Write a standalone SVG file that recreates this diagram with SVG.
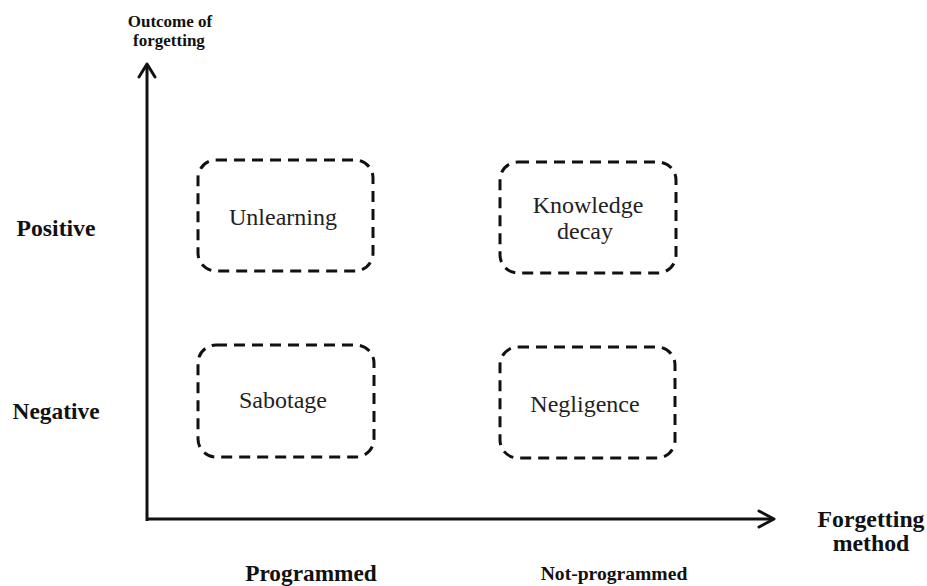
<svg xmlns="http://www.w3.org/2000/svg" width="927" height="586" viewBox="0 0 927 586">
<style>
.box{fill:none;stroke:#111;stroke-width:3;stroke-dasharray:11 7}
.ax{fill:none;stroke:#111;stroke-width:3}
.hd{fill:none;stroke:#111;stroke-width:3;stroke-linecap:round;stroke-linejoin:round}
.lb{font-family:"Liberation Serif",serif;font-size:24px;fill:#222;text-anchor:middle}
.bd{font-family:"Liberation Serif",serif;font-weight:bold;fill:#111;text-anchor:middle}
</style>
<rect width="927" height="586" fill="#fff"/>
<g id="connectors">
<line class="ax" x1="147" y1="521" x2="147" y2="65"/>
<polyline class="hd" points="139,77 147,64 155,77"/>
<line class="ax" x1="146" y1="519" x2="773" y2="519"/>
<polyline class="hd" points="759,511 774,519 759,527"/>
</g>
<g id="unlearning">
<rect class="box" x="198" y="160" width="175" height="111" rx="18"/>
<text class="lb" x="283" y="225">Unlearning</text>
</g>
<g id="knowledge-decay">
<rect class="box" x="500" y="162" width="176" height="111" rx="18"/>
<text class="lb" x="588" y="213">Knowledge</text>
<text class="lb" x="585" y="239">decay</text>
</g>
<g id="sabotage">
<rect class="box" x="198" y="345" width="176" height="112" rx="18"/>
<text class="lb" x="283" y="408">Sabotage</text>
</g>
<g id="negligence">
<rect class="box" x="500" y="347" width="175" height="111" rx="18"/>
<text class="lb" x="585" y="412">Negligence</text>
</g>
<g id="labels">
<text class="bd" x="170" y="27" font-size="17">Outcome of</text>
<text class="bd" x="169" y="46" font-size="17">forgetting</text>
<text class="bd" x="56" y="236" font-size="23.7">Positive</text>
<text class="bd" x="56" y="419" font-size="23.4">Negative</text>
<text class="bd" x="871" y="527" font-size="23.8">Forgetting</text>
<text class="bd" x="871" y="551" font-size="23.8">method</text>
<text class="bd" x="311" y="581" font-size="23.3">Programmed</text>
<text class="bd" x="614" y="580" font-size="19.6">Not-programmed</text>
</g>
</svg>
